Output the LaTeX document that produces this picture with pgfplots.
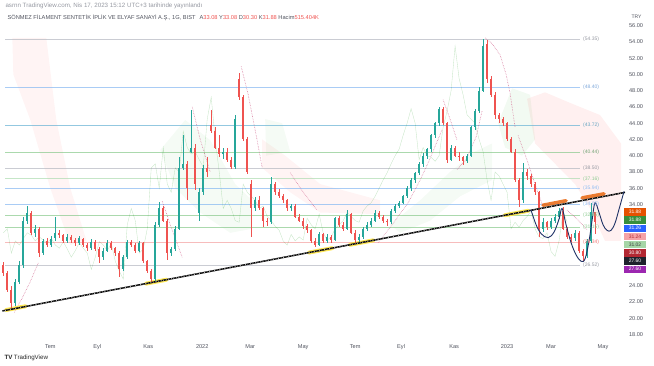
\documentclass[border=0pt]{standalone}
\usepackage{pgfplots}
\pgfplotsset{compat=1.18}
\usepackage{pgfplotstable}
\usepackage{fontspec}
\setmainfont{Liberation Sans}

\definecolor{upc}{HTML}{26A69A}
\definecolor{dnc}{HTML}{EF5350}
\definecolor{tvtxt}{HTML}{50535E}
\definecolor{tvgrey}{HTML}{9598A1}
\definecolor{lvgrey}{HTML}{B8BBC4}
\definecolor{lvblue}{HTML}{8CBBF2}
\definecolor{lvteal}{HTML}{6FB6D6}
\definecolor{lvgreen}{HTML}{8FCC92}
\definecolor{lvlgreen}{HTML}{B2DDB4}
\definecolor{lvred}{HTML}{F4A5A5}
\definecolor{cupc}{HTML}{1F3266}
\definecolor{sarc}{HTML}{D0608A}
\definecolor{hlyellow}{HTML}{FFE53B}
\definecolor{hlorange}{HTML}{E8650E}
\definecolor{bOrange}{HTML}{E65100}
\definecolor{bGreen}{HTML}{388E3C}
\definecolor{bBlue}{HTML}{2962FF}
\definecolor{bPink}{HTML}{F5A3A8}
\definecolor{bLGreen}{HTML}{A5D6A7}
\definecolor{bRed}{HTML}{B22833}
\definecolor{bBlack}{HTML}{1E222D}
\definecolor{bPurple}{HTML}{9C27B0}

\pgfplotstableread{
x o h l c
3 26.5 26.9 25.2 25.5
7 25.5 25.8 23.2 23.5
11 23.5 23.9 21.2 21.8
15 21.8 24.8 21.5 24.5
19 24.5 27.0 24.2 26.5
23 26.5 32.4 26.2 32.0
27 32.0 33.8 31.6 33.0
31 33.0 33.2 30.2 30.5
35 30.5 31.5 30.0 31.0
39 31.0 31.2 27.5 28.0
43 28.0 29.8 27.8 29.5
47 29.5 29.9 28.7 29.0
51 29.0 30.1 28.8 29.8
55 29.8 32.5 29.5 30.5
59 30.5 30.9 29.9 30.2
63 30.2 30.4 29.2 29.5
67 29.5 30.3 29.3 30.0
71 30.0 30.2 29.3 29.6
75 29.6 29.8 28.9 29.2
79 29.2 30.1 29.0 29.8
83 29.8 29.9 28.8 29.0
87 29.0 29.2 28.3 28.6
91 28.6 29.7 28.4 29.4
95 29.4 29.6 28.3 28.5
99 28.5 28.7 26.8 27.5
103 27.5 28.6 27.2 28.3
107 28.3 29.6 28.1 29.3
111 29.3 29.5 28.4 28.6
115 28.6 28.8 27.6 28.0
119 28.0 28.2 25.1 26.0
123 26.0 27.8 25.8 27.5
127 27.5 29.6 27.3 29.4
131 29.4 29.6 28.7 29.0
135 29.0 29.2 28.0 28.3
139 28.3 29.5 28.1 29.2
143 29.2 29.4 26.8 27.0
147 27.0 27.2 25.6 25.8
151 25.8 26.0 24.4 24.8
155 24.8 31.8 24.6 31.5
159 31.5 34.3 31.2 33.5
163 33.5 33.8 31.8 32.0
167 32.0 32.2 27.2 28.0
171 28.0 28.8 27.6 28.5
175 28.5 31.4 28.2 31.0
179 31.0 39.8 30.8 38.5
183 38.5 42.6 38.2 39.0
187 39.0 39.3 34.6 36.0
191 40.5 45.6 40.3 41.0
195 41.0 41.4 35.8 36.5
199 33.0 36.0 32.0 35.5
203 35.5 38.9 35.2 38.5
207 38.5 39.8 37.4 38.0
211 43.8 45.6 42.8 43.0
215 43.0 43.5 40.8 41.0
219 41.0 42.6 39.8 40.2
223 40.2 41.0 39.6 40.5
227 40.5 41.0 39.2 39.5
231 39.5 39.8 38.3 38.6
235 38.6 45.0 38.4 44.5
239 49.5 50.2 46.8 47.2
243 47.2 47.5 41.8 42.0
247 42.0 42.3 37.8 38.0
251 36.5 37.0 30.0 33.5
255 33.5 34.9 33.2 34.5
259 34.5 35.0 33.3 33.5
263 33.5 33.7 31.2 32.0
267 32.0 32.3 31.3 31.8
271 31.8 37.4 31.6 36.5
275 36.5 36.8 35.2 35.5
279 35.5 35.9 34.8 35.0
283 35.0 35.3 34.2 34.5
287 34.5 34.7 33.2 33.5
291 33.5 34.1 33.2 33.8
295 33.8 34.0 32.3 32.5
299 32.5 32.8 31.8 32.0
303 32.0 32.3 31.0 31.3
307 31.3 31.6 30.5 30.8
311 30.8 31.0 29.3 29.5
315 29.5 29.8 28.8 29.0
319 29.0 30.6 28.9 30.3
323 30.3 30.5 29.3 29.5
327 29.5 30.3 29.2 30.0
331 30.0 30.2 29.3 29.6
335 29.6 32.5 29.5 32.3
339 32.3 32.6 31.2 31.5
343 31.5 31.8 30.7 31.0
347 31.0 33.3 30.8 32.8
351 32.8 33.0 30.3 30.5
355 30.5 30.8 29.3 29.6
359 29.6 30.3 29.4 30.0
363 30.0 31.2 29.8 31.0
367 31.0 31.8 30.7 31.5
371 31.5 32.3 31.2 32.0
375 32.0 33.3 31.8 33.0
379 33.0 33.2 32.2 32.5
383 32.5 32.7 31.7 32.0
387 32.0 32.2 31.4 31.8
391 31.8 33.4 31.6 33.2
395 33.2 34.0 33.0 33.8
399 33.8 34.4 33.5 34.2
403 34.2 35.2 34.0 35.0
407 35.0 36.3 34.8 36.0
411 36.0 37.2 35.7 37.0
415 37.0 38.0 36.6 37.9
419 37.9 39.2 37.6 39.0
423 39.0 40.3 38.6 40.0
427 40.0 41.0 39.6 40.8
431 40.8 42.7 40.5 42.5
435 42.5 44.2 42.2 44.0
439 44.0 46.0 43.7 45.8
443 45.8 46.0 43.8 44.0
447 44.0 44.2 39.1 39.5
451 39.5 41.3 39.3 41.0
455 41.0 41.2 39.8 40.0
459 40.0 40.4 39.4 39.8
463 39.8 40.0 38.9 39.3
467 39.3 40.2 39.1 40.0
471 40.0 43.7 39.8 43.5
475 43.5 45.8 43.2 45.5
479 45.5 48.5 45.2 48.0
483 48.0 54.35 47.8 53.5
487 53.8 54.2 49.0 49.5
491 49.5 49.8 47.2 47.5
495 47.5 47.8 44.5 45.0
499 45.0 45.3 44.0 44.5
503 44.5 44.8 43.6 44.0
507 44.0 44.2 41.8 42.0
511 42.0 42.3 40.3 40.5
515 40.5 40.8 36.8 37.0
519 37.0 37.3 33.7 34.5
523 34.5 39.1 34.2 38.0
527 38.0 38.3 37.0 37.5
531 37.5 37.8 36.2 36.5
535 36.5 36.8 35.2 35.5
539 35.5 35.7 30.0 31.0
543 31.0 32.3 30.6 31.8
547 31.8 32.0 30.9 31.2
551 31.2 32.3 31.0 32.0
555 32.0 32.8 31.7 32.5
559 32.5 33.5 32.2 33.2
563 33.2 33.7 30.8 31.0
567 31.0 31.2 29.8 30.0
571 30.0 30.4 29.4 29.8
575 29.8 30.9 29.5 30.5
579 30.5 30.7 28.0 28.2
583 28.2 28.5 27.0 27.6
587 27.6 29.8 27.4 29.5
591 29.5 34.2 29.3 33.1
595 33.08 33.08 30.30 31.88
}\candles

\begin{document}
\begin{tikzpicture}
\begin{axis}[
  scale only axis, width=620pt, height=335pt,
  xmin=0, xmax=620, ymin=17.9385, ymax=59.169,
  clip=false,
  axis line style={draw=none},
  tick style={draw=none},
  major tick length=0pt,
  xtick={50,97,148,202,250,303,355,401,454,507,551,603},
  xticklabels={Tem,Eyl,Kas,2022,Mar,May,Tem,Eyl,Kas,2023,Mar,May},
  ytick={18,20,22,24,34,36,38,40,42,44,46,48,50,52,54,56},
  yticklabel pos=right,
  /pgf/number format/fixed,
  /pgf/number format/fixed zerofill,
  /pgf/number format/precision=2,
  /pgf/number format/assume math mode=true,
  xticklabel style={font=\fontsize{5.6}{6}\selectfont, text=tvtxt, yshift=-6pt},
  yticklabel style={font=\fontsize{5.6}{6}\selectfont, text=tvtxt, anchor=west, xshift=5.5pt},
]
% bounding box of the whole picture
\path (axis cs:0,59.169) rectangle (axis cs:654,14.123);

% Ichimoku-like clouds
\addplot[draw=none, fill=red, fill opacity=0.045, forget plot] coordinates {(12,54.5)(46,54.5)(56,44.4)(70,36.0)(86,29.6)(70,29.0)(50,36.0)(30,44.4)(13,50.0)} -- cycle;
\addplot[draw=none, fill=green!60!black, fill opacity=0.04, forget plot] coordinates {(160,40.7)(185,44.4)(210,41.9)(235,36.5)(252,34.5)(252,31.0)(230,30.5)(200,33.0)(175,36.0)} -- cycle;
\addplot[draw=none, fill=red, fill opacity=0.045, forget plot] coordinates {(262,42.0)(285,40.0)(320,36.5)(380,34.5)(380,32.8)(320,33.0)(290,35.5)(262,38.5)} -- cycle;
\addplot[draw=none, fill=green!60!black, fill opacity=0.04, forget plot] coordinates {(265,44.5)(282,44.0)(290,40.5)(266,40.0)} -- cycle;
\addplot[draw=none, fill=green!60!black, fill opacity=0.04, forget plot] coordinates {(390,31.5)(420,34.5)(450,38.0)(475,40.5)(492,41.5)(492,37.0)(460,35.0)(430,32.0)(400,30.5)} -- cycle;
\addplot[draw=none, fill=green!60!black, fill opacity=0.05, forget plot] coordinates {(498,44.0)(512,48.3)(530,47.5)(535,42.0)(522,40.0)(505,41.0)} -- cycle;
\addplot[draw=none, fill=red, fill opacity=0.06, forget plot] coordinates {(527,47.0)(545,47.8)(570,46.5)(600,45.0)(621,41.5)(621,29.5)(605,29.5)(590,33.5)(575,36.5)(555,39.0)(535,41.5)} -- cycle;

% level lines
\begin{scope}[opacity=0.75]
\addplot[lvgrey, line width=0.5pt, forget plot] coordinates {(5,54.35)(580,54.35)};
\addplot[lvblue, line width=0.5pt, forget plot] coordinates {(5,48.40)(580,48.40)};
\addplot[lvteal, line width=0.5pt, forget plot] coordinates {(5,43.72)(580,43.72)};
\addplot[lvgreen, line width=0.5pt, forget plot] coordinates {(5,40.44)(580,40.44)};
\addplot[lvgrey, line width=0.5pt, forget plot] coordinates {(5,38.50)(580,38.50)};
\addplot[lvlgreen, line width=0.5pt, forget plot] coordinates {(5,37.16)(580,37.16)};
\addplot[lvblue, line width=0.5pt, forget plot] coordinates {(5,35.94)(580,35.94)};
\addplot[lvblue, line width=0.5pt, forget plot] coordinates {(5,34.05)(580,34.05)};
\addplot[lvgreen, line width=0.5pt, forget plot] coordinates {(5,32.65)(580,32.65)};
\addplot[lvgreen, line width=0.5pt, forget plot] coordinates {(5,31.15)(580,31.15)};
\addplot[lvred, line width=0.5pt, forget plot] coordinates {(5,29.34)(580,29.34)};
\addplot[lvgrey, line width=0.5pt, forget plot] coordinates {(5,26.52)(580,26.52)};
\end{scope}

% lagging span (close shifted back)
\addplot[green!55!black, line width=0.35pt, opacity=0.22, forget plot, restrict x to domain=2:620] table[x expr={\thisrow{x}-28}, y=c] {\candles};

% parabolic SAR style dotted segments
\addplot[sarc, densely dotted, line width=0.6pt, opacity=0.8, forget plot] coordinates {(14,20.7)(22,22.5)(30,24.5)(38,26.8)};
\addplot[sarc, densely dotted, line width=0.6pt, opacity=0.8, forget plot] coordinates {(162,34.4)(170,31.5)(182,27.5)};
\addplot[sarc, densely dotted, line width=0.6pt, opacity=0.8, forget plot] coordinates {(192,46.0)(200,42.0)(210,38.0)};
\addplot[sarc, densely dotted, line width=0.6pt, opacity=0.8, forget plot] coordinates {(241,51.0)(248,47.5)(256,42.5)(262,38.5)};
\addplot[sarc, densely dotted, line width=0.6pt, opacity=0.8, forget plot] coordinates {(290,37.9)(303,35.5)(317,33.3)};
\addplot[sarc, densely dotted, line width=0.6pt, opacity=0.8, forget plot] coordinates {(378,29.3)(392,31.5)(408,34.2)(420,37.0)(428,39.1)(442,43.2)};
\addplot[sarc, densely dotted, line width=0.6pt, opacity=0.8, forget plot] coordinates {(443,46.9)(450,44.5)(457,41.9)};
\addplot[sarc, densely dotted, line width=0.6pt, opacity=0.8, forget plot] coordinates {(457,38.3)(466,39.5)(476,42.3)(482,45.5)};
\addplot[sarc, densely dotted, line width=0.6pt, opacity=0.8, forget plot] coordinates {(485,54.5)(492,53.8)(500,52.4)(506,50.0)(510,47.7)(515,43.5)};
\addplot[sarc, densely dotted, line width=0.6pt, opacity=0.8, forget plot] coordinates {(518,42.5)(526,39.8)(535,36.5)(543,33.7)};
\addplot[sarc, densely dotted, line width=0.6pt, opacity=0.8, forget plot] coordinates {(567,33.3)(577,32.2)(587,30.9)};

% highlights on the trend line
\addplot[hlyellow, line width=4pt, line cap=round, opacity=0.85, forget plot] coordinates {(6,21.0)(25,21.45)};
\addplot[hlyellow, line width=4pt, line cap=round, opacity=0.85, forget plot] coordinates {(146,24.25)(166,24.72)};
\addplot[hlyellow, line width=4pt, line cap=round, opacity=0.85, forget plot] coordinates {(309,28.07)(332,28.61)};
\addplot[hlyellow, line width=4pt, line cap=round, opacity=0.85, forget plot] coordinates {(350,29.03)(373,29.57)};
\addplot[hlyellow, line width=4pt, line cap=round, opacity=0.85, forget plot] coordinates {(505,32.67)(528,33.21)};
\addplot[hlorange, line width=3.5pt, line cap=round, opacity=0.85, forget plot] coordinates {(543,33.90)(566,34.45)};
\addplot[hlorange, line width=3.5pt, line cap=round, opacity=0.85, forget plot] coordinates {(582,34.80)(604,35.30)};

% candles: wicks
\addplot[forget plot, draw=none, mark=none, error bars/.cd, y dir=both, y explicit, error mark=none, error bar style={line width=0.45pt, color=upc}]
  table[x=x, y expr={(\thisrow{h}+\thisrow{l})/2}, y error expr={(\thisrow{h}-\thisrow{l})/2}, restrict expr to domain={\thisrow{c}-\thisrow{o}}{0:1000}] {\candles};
\addplot[forget plot, draw=none, mark=none, error bars/.cd, y dir=both, y explicit, error mark=none, error bar style={line width=0.45pt, color=dnc}]
  table[x=x, y expr={(\thisrow{h}+\thisrow{l})/2}, y error expr={(\thisrow{h}-\thisrow{l})/2}, restrict expr to domain={\thisrow{c}-\thisrow{o}}{-1000:-0.00001}] {\candles};
% candles: bodies
\addplot[forget plot, draw=none, mark=none, error bars/.cd, y dir=both, y explicit, error mark=none, error bar style={line width=1.8pt, color=upc}]
  table[x=x, y expr={(\thisrow{o}+\thisrow{c})/2}, y error expr={abs(\thisrow{c}-\thisrow{o})/2}, restrict expr to domain={\thisrow{c}-\thisrow{o}}{0:1000}] {\candles};
\addplot[forget plot, draw=none, mark=none, error bars/.cd, y dir=both, y explicit, error mark=none, error bar style={line width=1.8pt, color=dnc}]
  table[x=x, y expr={(\thisrow{o}+\thisrow{c})/2}, y error expr={abs(\thisrow{c}-\thisrow{o})/2}, restrict expr to domain={\thisrow{c}-\thisrow{o}}{-1000:-0.00001}] {\candles};

% trend line
\addplot[black, line width=1.5pt, forget plot] coordinates {(2,20.88)(625,35.48)};
\addplot[white, line width=0.45pt, dash pattern=on 1pt off 1.6pt, forget plot] coordinates {(2,20.88)(625,35.48)};

% cup and handle
\addplot[cupc, line width=0.9pt, smooth, tension=0.6, forget plot] coordinates {
(531,33.3)(536,31.5)(541,30.4)(548,29.9)(554,30.6)(559,32.2)(562,33.5)
(566,31.5)(571,29.3)(576,27.8)(581,27.0)(585,27.3)(589,29.5)(592,32.0)(595,34.2)
(599,33.0)(603,31.5)(607,30.8)(611,30.8)(615,31.7)(619,33.4)(624,35.6)};

% level labels
\begin{scope}[every node/.style={anchor=west, font=\fontsize{5}{5}\selectfont, inner sep=0pt}]
\node[text=tvgrey] at (axis cs:583,54.35) {(54.35)};
\node[text=lvblue!90!black] at (axis cs:583,48.40) {(48.40)};
\node[text=lvteal!90!black] at (axis cs:583,43.72) {(43.72)};
\node[text=lvgreen!80!black] at (axis cs:583,40.44) {(40.44)};
\node[text=tvgrey] at (axis cs:583,38.50) {(38.50)};
\node[text=lvgreen] at (axis cs:583,37.16) {(37.16)};
\node[text=lvblue] at (axis cs:583,35.94) {(35.94)};
\node[text=lvblue] at (axis cs:583,34.05) {(34.05)};
\node[text=lvgreen] at (axis cs:583,32.65) {(32.65)};
\node[text=lvgreen] at (axis cs:583,31.15) {(31.15)};
\node[text=dnc!80] at (axis cs:583,29.34) {(29.34)};
\node[text=tvgrey] at (axis cs:583,26.52) {(26.52)};
\end{scope}

% price boxes
\begin{scope}[every node/.style={font=\fontsize{5}{5}\selectfont, minimum width=22pt, minimum height=7.4pt, inner sep=0pt, text=white}]
\node[fill=bOrange] at (axis cs:635,33.08) {31.88};
\node[fill=bGreen] at (axis cs:635,32.09) {31.88};
\node[fill=bBlue] at (axis cs:635,31.06) {31.26};
\node[fill=bPink, text=bRed] at (axis cs:635,30.05) {31.24};
\node[fill=bLGreen, text=black!75] at (axis cs:635,29.04) {31.02};
\node[fill=bRed] at (axis cs:635,28.03) {30.80};
\node[fill=bBlack] at (axis cs:635,27.02) {27.60};
\node[fill=bPurple] at (axis cs:635,26.01) {27.60};
\end{scope}

% texts
\node[anchor=west, font=\fontsize{5}{5}\selectfont, text=tvtxt] at (axis cs:628,57.08) {TRY};
\node[anchor=west, inner sep=0pt, font=\fontsize{6.2}{7}\selectfont, text=tvgrey] at (axis cs:5,58.43) {asrnn TradingView.com, Nis 17, 2023 15:12 UTC+3 tarihinde yayınlandı};
\node[anchor=west, inner sep=0pt, font=\fontsize{5.7}{6}\selectfont, text=tvtxt] at (axis cs:7,56.95) {SÖNMEZ FİLAMENT SENTETİK İPLİK VE ELYAF SANAYİ A.Ş., 1G, BIST\hspace{4pt}A\textcolor{dnc}{33.08} Y\textcolor{dnc}{33.08} D\textcolor{dnc}{30.30} K\textcolor{dnc}{31.88} Hacim\textcolor{dnc}{515.404K}};
\node[anchor=west, inner sep=0pt, font=\fontsize{6.2}{7}\selectfont, text=black!85] at (axis cs:4,15.11) {\textbf{TV}\hspace{1.5pt}TradingView};
\end{axis}
\end{tikzpicture}
\end{document}
